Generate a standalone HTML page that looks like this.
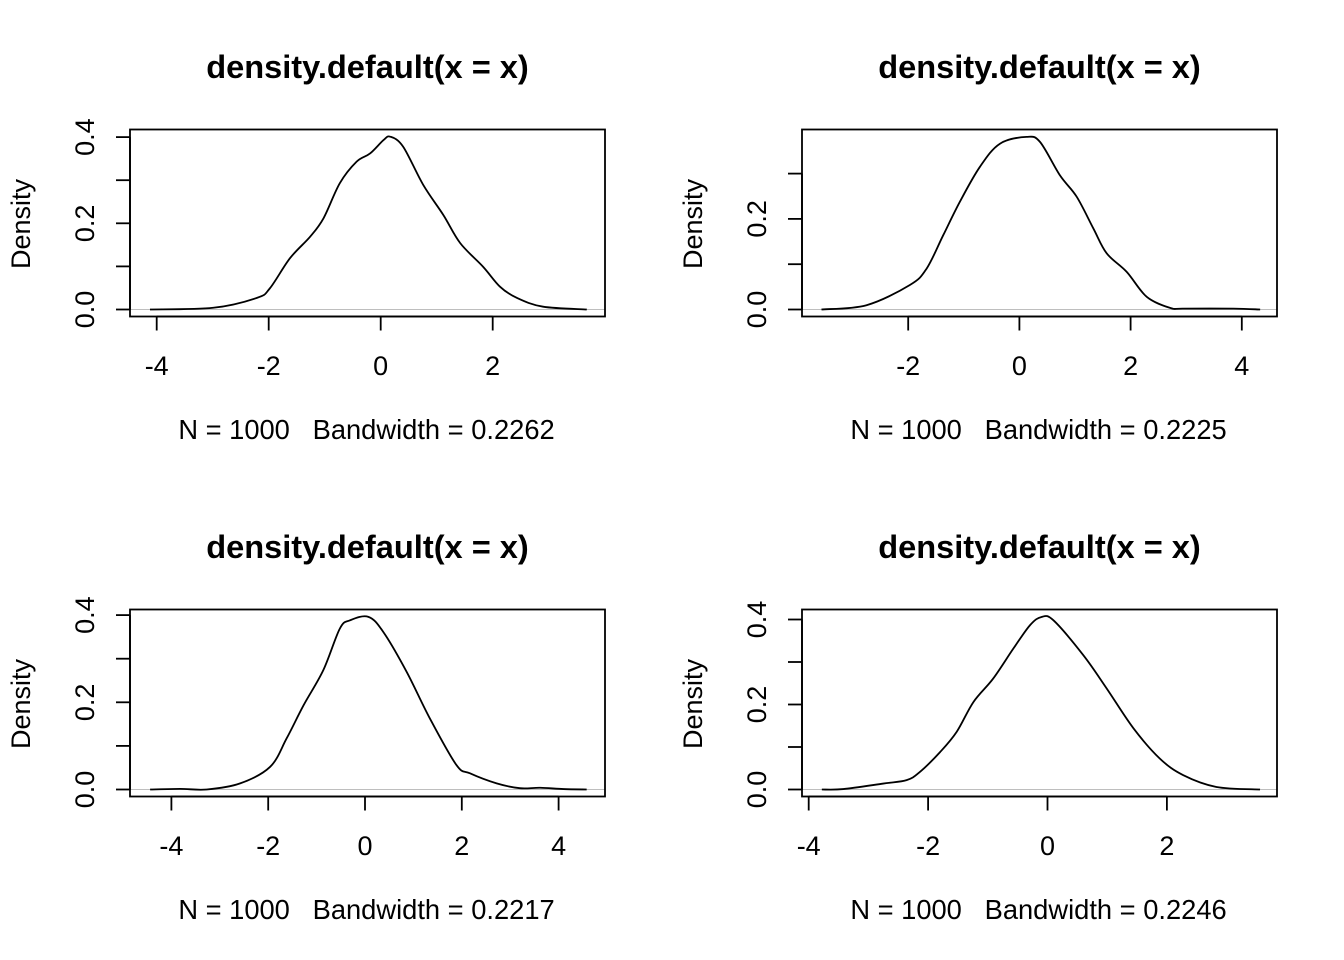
<!DOCTYPE html>
<html><head><meta charset="utf-8">
<style>
html,body{margin:0;padding:0;background:#fff;}
svg{display:block;font-family:"Liberation Sans",Arial,sans-serif;}
</style></head>
<body>
<svg id="c" width="1344" height="960" viewBox="0 0 1344 960"></svg>
<script>
// Data: density curves (x, density) per panel
const p1X = [-4.12,-2.99,-2.21,-1.98,-1.62,-1.26,-1.02,-0.73,-0.43,-0.19,0.05,0.17,0.40,0.76,1.12,1.42,1.83,2.13,2.43,2.90,3.68];
const p1Y = [0,0.004,0.027,0.049,0.119,0.169,0.212,0.293,0.343,0.362,0.393,0.401,0.378,0.289,0.219,0.154,0.099,0.053,0.027,0.0065,0];
const p2X = [-3.56,-2.75,-1.97,-1.67,-1.37,-1.07,-0.71,-0.35,0.13,0.37,0.73,1.03,1.33,1.57,1.93,2.29,2.71,2.95,3.85,4.33];
const p2Y = [0,0.0095,0.054,0.090,0.164,0.238,0.315,0.366,0.381,0.370,0.296,0.249,0.179,0.124,0.083,0.028,0.0035,0.002,0.002,0];
const p3X = [-4.44,-3.82,-3.27,-2.58,-1.96,-1.62,-1.27,-0.86,-0.52,-0.31,0.07,0.38,0.86,1.34,1.89,2.17,2.72,3.20,3.62,4.10,4.58];
const p3Y = [0,0.0015,0,0.014,0.052,0.117,0.193,0.274,0.369,0.388,0.396,0.361,0.270,0.163,0.056,0.037,0.014,0.003,0.004,0.001,0];
const p4X = [-3.78,-3.42,-2.75,-2.36,-2.14,-1.80,-1.52,-1.24,-0.91,-0.57,-0.29,-0.10,0.10,0.60,0.99,1.44,1.88,2.27,2.83,3.56];
const p4Y = [0,0.001,0.014,0.022,0.041,0.088,0.136,0.206,0.261,0.332,0.387,0.406,0.398,0.316,0.238,0.144,0.073,0.034,0.006,0];
// Tick values
const p1XTicks = [-4,-2,0,2];
const p2XTicks = [-2,0,2,4];
const p3XTicks = [-4,-2,0,2,4];
const p4XTicks = [-4,-2,0,2];
const p1YTicks = [0,0.1,0.2,0.3,0.4];
const p2YTicks = [0,0.1,0.2,0.3];
const p3YTicks = [0,0.1,0.2,0.3,0.4];
const p4YTicks = [0,0.1,0.2,0.3,0.4];
const yLabelTicks1 = ["0.0","0.2","0.4"];
const yLabelTicks2 = ["0.0","0.2"];
const bandwidths = ["0.2262","0.2225","0.2217","0.2246"];

const NS="http://www.w3.org/2000/svg";
const svg=document.getElementById('c');
function mk(tag,attrs,parent){const e=document.createElementNS(NS,tag);for(const k in attrs)e.setAttribute(k,attrs[k]);(parent||svg).appendChild(e);return e;}

const panels=[
 {ox:0,oy:0,x0:380.7,sx:56,y0:309.5,sy:431,xs:p1X,ys:p1Y,xt:p1XTicks,yt:p1YTicks,yl:yLabelTicks1},
 {ox:672,oy:0,x0:1019.4,sx:55.6,y0:309.5,sy:453,xs:p2X,ys:p2Y,xt:p2XTicks,yt:p2YTicks,yl:yLabelTicks2},
 {ox:0,oy:480,x0:365,sx:48.4,y0:789.5,sy:436,xs:p3X,ys:p3Y,xt:p3XTicks,yt:p3YTicks,yl:yLabelTicks1},
 {ox:672,oy:480,x0:1047.5,sx:59.7,y0:789.5,sy:425,xs:p4X,ys:p4Y,xt:p4XTicks,yt:p4YTicks,yl:yLabelTicks1}
];

panels.forEach((p,i)=>{
  const g=mk('g',{});
  
  
  const X=v=>p.x0+v*p.sx, Y=v=>p.y0-v*p.sy;
  const L=130+p.ox,R=605+p.ox,T=129.5+p.oy,B=316.5+p.oy,cx=(L+R)/2;
  const t=mk('text',{x:cx,y:78+p.oy,'text-anchor':'middle','font-size':'32.6','font-weight':'bold'},g);
  t.textContent='density.default(x = x)';
  
  
  const zl=mk('line',{x1:L,x2:R,y1:Y(0),y2:Y(0),stroke:'#bebebe','stroke-width':1},g);
  
  
  const bx=mk('rect',{x:L,y:T,width:R-L,height:B-T,fill:'none',stroke:'#000','stroke-width':1.8},g);
  
  
  const xa=mk('g',{},g);
  
  
  mk('line',{x1:X(p.xt[0]),x2:X(p.xt[p.xt.length-1]),y1:B,y2:B,stroke:'#000','stroke-width':1.8},xa);
  p.xt.forEach(v=>{
    mk('line',{x1:X(v),x2:X(v),y1:B,y2:B+14,stroke:'#000','stroke-width':1.8},xa);
    const tl=mk('text',{x:X(v),y:375+p.oy,'text-anchor':'middle','font-size':'27'},xa);
    tl.textContent=String(v);
    
    
  });
  const ya=mk('g',{},g);
  
  
  mk('line',{x1:L,x2:L,y1:Y(p.yt[0]),y2:Y(p.yt[p.yt.length-1]),stroke:'#000','stroke-width':1.8},ya);
  p.yt.forEach(v=>{
    mk('line',{x1:L-14,x2:L,y1:Y(v),y2:Y(v),stroke:'#000','stroke-width':1.8},ya);
  });
  p.yl.forEach(s=>{
    const v=parseFloat(s);
    const yx=94+p.ox;
    const tl=mk('text',{x:yx,y:Y(v),'text-anchor':'middle','font-size':'27',transform:`rotate(-90 ${yx} ${Y(v)})`},ya);
    tl.textContent=s;
    
    
  });
  const dx=30+p.ox, dy=224+p.oy;
  const yt=mk('text',{x:dx,y:dy,'text-anchor':'middle','font-size':'27',transform:`rotate(-90 ${dx} ${dy})`},g);
  yt.textContent='Density';
  
  
  const xt=mk('text',{x:cx-1,y:439+p.oy,'text-anchor':'middle','font-size':'27.3'},g);
  xt.textContent='N = 1000   Bandwidth = '+bandwidths[i];
  xt.style.whiteSpace='pre';
  
  
  const pts=p.xs.map((v,k)=>[X(v),Y(p.ys[k])]);
  let d='M'+pts[0][0]+' '+pts[0][1];
  for(let k=0;k<pts.length-1;k++){
    const a=pts[Math.max(0,k-1)],b=pts[k],c=pts[k+1],e=pts[Math.min(pts.length-1,k+2)];
    const c1=[b[0]+(c[0]-a[0])/6,b[1]+(c[1]-a[1])/6],c2=[c[0]-(e[0]-b[0])/6,c[1]-(e[1]-b[1])/6];
    d+=` C${c1[0]} ${c1[1]} ${c2[0]} ${c2[1]} ${c[0]} ${c[1]}`;
  }
  const cv=mk('path',{d:d,fill:'none',stroke:'#000','stroke-width':1.8},g);
  
  
});
</script>
</body></html>
